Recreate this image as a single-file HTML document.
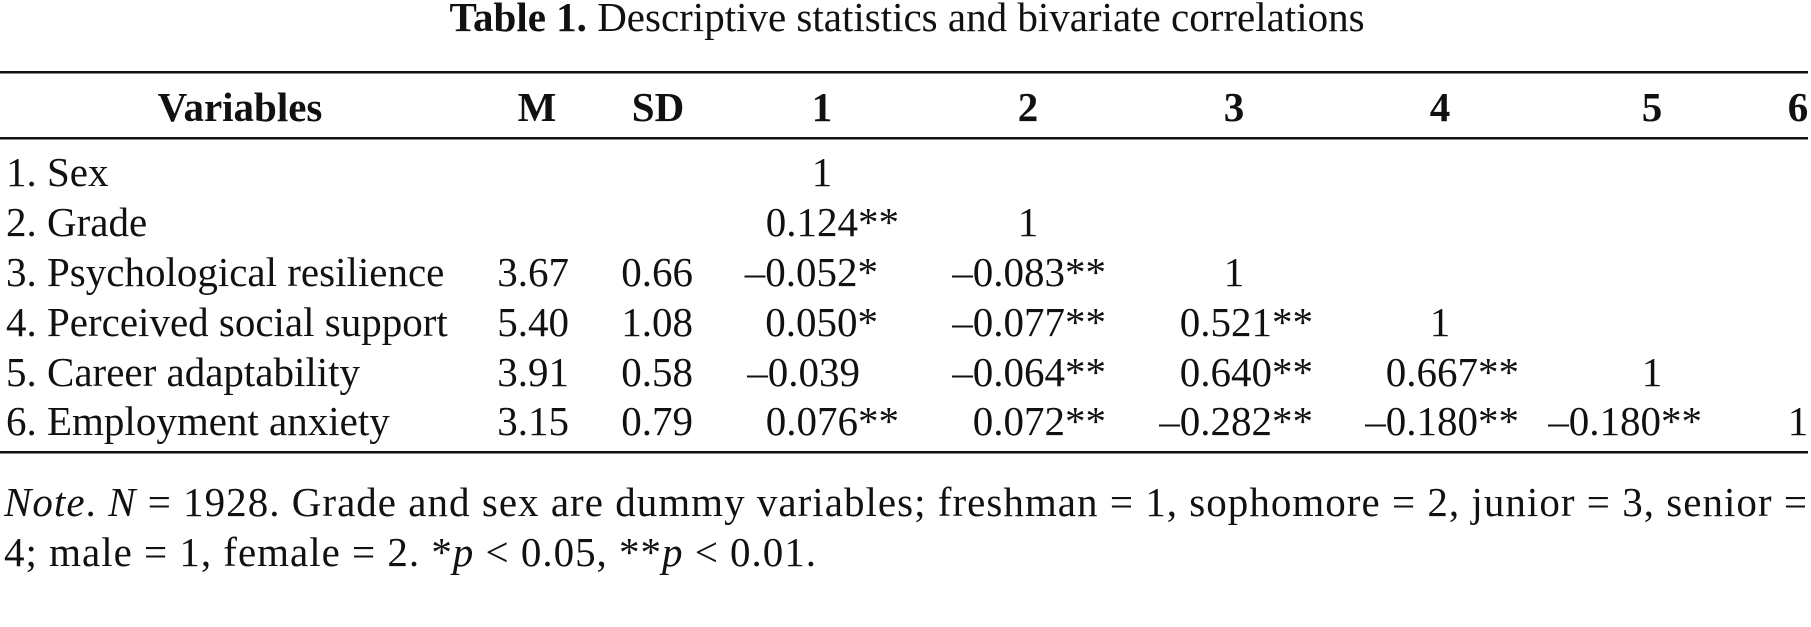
<!DOCTYPE html>
<html><head><meta charset="utf-8"><style>
html,body{margin:0;padding:0;background:#fff;}
svg{display:block;}
text{font-family:"Liberation Serif","Times New Roman",serif;font-size:41px;fill:#111;}
.b{font-weight:bold;}
</style></head><body>
<svg width="1811" height="627" viewBox="0 0 1811 627" xmlns="http://www.w3.org/2000/svg">
<text x="907" y="31" text-anchor="middle"><tspan class="b">Table 1.</tspan> Descriptive statistics and bivariate correlations</text>
<rect x="0" y="71" width="1808" height="2.5" fill="#111"/>
<rect x="0" y="137" width="1808" height="2.5" fill="#111"/>
<rect x="0" y="451" width="1808" height="2.5" fill="#111"/>
<g text-anchor="middle">
<text x="240" y="121" class="b">Variables</text>
<text x="537" y="121" class="b">M</text>
<text x="658" y="121" class="b">SD</text>
<text x="822" y="121" class="b">1</text>
<text x="1028" y="121" class="b">2</text>
<text x="1234" y="121" class="b">3</text>
<text x="1440" y="121" class="b">4</text>
<text x="1652" y="121" class="b">5</text>
<text x="1798" y="121" class="b">6</text>
</g>
<g>
<text x="6" y="186">1. Sex</text>
<text x="6" y="236">2. Grade</text>
<text x="6" y="286">3. Psychological resilience</text>
<text x="6" y="336">4. Perceived social support</text>
<text x="6" y="386">5. Career adaptability</text>
<text x="6" y="435">6. Employment anxiety</text>
</g>
<g text-anchor="end">
<text x="569" y="286">3.67</text><text x="693" y="286">0.66</text>
<text x="569" y="336">5.40</text><text x="693" y="336">1.08</text>
<text x="569" y="386">3.91</text><text x="693" y="386">0.58</text>
<text x="569" y="435">3.15</text><text x="693" y="435">0.79</text>

<text x="899" y="236">0.124**</text>
<text x="878" y="286">–0.052*</text>
<text x="878" y="336">0.050*</text>
<text x="860" y="386">–0.039</text>
<text x="899" y="435">0.076**</text>

<text x="1106" y="286">–0.083**</text>
<text x="1106" y="336">–0.077**</text>
<text x="1106" y="386">–0.064**</text>
<text x="1106" y="435">0.072**</text>

<text x="1313" y="336">0.521**</text>
<text x="1313" y="386">0.640**</text>
<text x="1313" y="435">–0.282**</text>

<text x="1519" y="386">0.667**</text>
<text x="1519" y="435">–0.180**</text>

<text x="1702" y="435">–0.180**</text>
</g>
<g text-anchor="middle">
<text x="822" y="186">1</text>
<text x="1028" y="236">1</text>
<text x="1234" y="286">1</text>
<text x="1440" y="336">1</text>
<text x="1652" y="386">1</text>
<text x="1798" y="435">1</text>
</g>
<text x="4" y="516" textLength="1803" lengthAdjust="spacing"><tspan font-style="italic">Note</tspan>. <tspan font-style="italic">N</tspan> = 1928. Grade and sex are dummy variables; freshman = 1, sophomore = 2, junior = 3, senior =</text>
<text x="4" y="566" textLength="812" lengthAdjust="spacing">4; male = 1, female = 2. *<tspan font-style="italic">p</tspan> &lt; 0.05, **<tspan font-style="italic">p</tspan> &lt; 0.01.</text>
</svg>
</body></html>
